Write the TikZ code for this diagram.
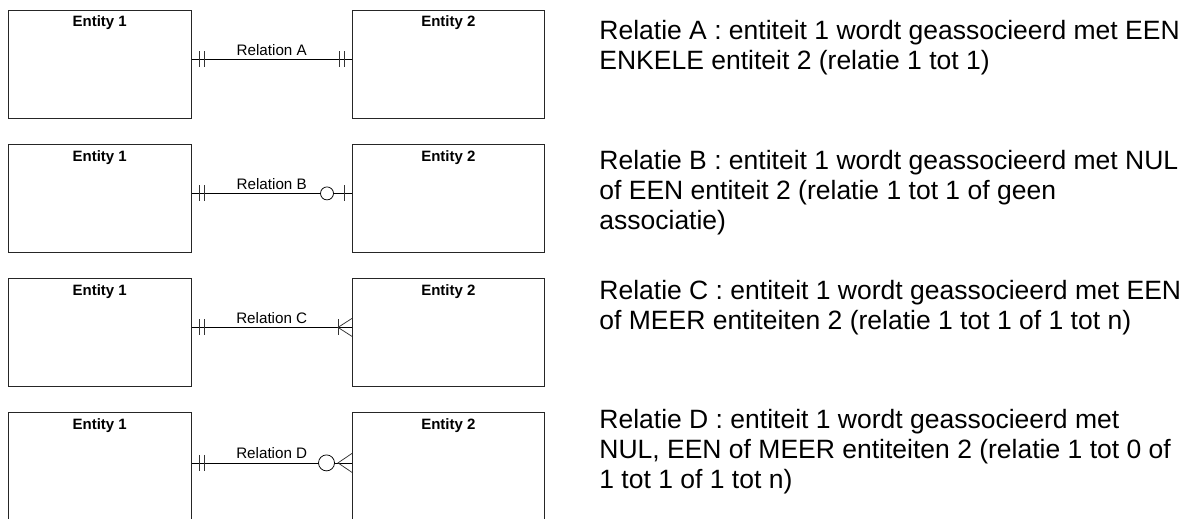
\documentclass[tikz,border=0pt]{standalone}
\usepackage{fontspec}
\setmainfont{Liberation Sans}
\usetikzlibrary{calc}
\begin{document}
\begin{tikzpicture}[x=1pt,y=-1pt,line width=0.8pt,
  ebox/.style={draw=black!85, inner sep=0pt, anchor=north west, minimum height=108pt},
  eone/.style={ebox, minimum width=182.7pt},
  etwo/.style={ebox, minimum width=192pt},
  ename/.style={font=\fontsize{15}{18}\selectfont\bfseries, anchor=base, inner sep=0pt},
  rname/.style={font=\fontsize{15.2}{18}\selectfont, anchor=base, inner sep=0pt},
  desc/.style={font=\fontsize{26.5}{30}\selectfont, anchor=base west, inner sep=0pt},
  conn/.style={draw=black, line width=0.8pt},
  tickln/.style={draw=black!80, line width=0.75pt},
  ring/.style={draw=black, fill=white, line width=0.75pt}
]
\useasboundingbox (0,0) rectangle (1189,519);

% ---------- Row A ----------
\node[eone] (e1a) at (8,10) {};
\node[etwo] (e2a) at (352,10) {};
\node[ename] at ($(e1a.north)+(0,17)$) {Entity 1};
\node[ename] at ($(e2a.north)+(0,17)$) {Entity 2};
\path (e1a.east) ++(0,-5) coordinate (a1);
\path (e2a.west) ++(0,-5) coordinate (a2);
\draw[conn] (a1) -- (a2);
\draw[tickln] ($(a1)+(7.5,-8)$) -- ++(0,16);
\draw[tickln] ($(a1)+(12.5,-8)$) -- ++(0,16);
\draw[tickln] ($(a2)+(-13,-8)$) -- ++(0,16);
\draw[tickln] ($(a2)+(-8,-8)$) -- ++(0,16);
\node[rname] at ($(a1)!0.5!(a2)+(0,-4)$) {Relation A};

% ---------- Row B ----------
\node[eone] (e1b) at (8,144) {};
\node[etwo] (e2b) at (352,144) {};
\node[ename] at ($(e1b.north)+(0,17)$) {Entity 1};
\node[ename] at ($(e2b.north)+(0,17)$) {Entity 2};
\path (e1b.east) ++(0,-5) coordinate (b1);
\path (e2b.west) ++(0,-5) coordinate (b2);
\draw[conn] (b1) -- (b2);
\draw[tickln] ($(b1)+(7.5,-8)$) -- ++(0,16);
\draw[tickln] ($(b1)+(12.5,-8)$) -- ++(0,16);
\draw[tickln] ($(b2)+(-8,-8)$) -- ++(0,16);
\draw[ring] ($(b2)+(-25,0)$) circle[radius=6.5pt];
\node[rname] at ($(b1)!0.5!(b2)+(0,-4)$) {Relation B};

% ---------- Row C ----------
\node[eone] (e1c) at (8,278) {};
\node[etwo] (e2c) at (352,278) {};
\node[ename] at ($(e1c.north)+(0,17)$) {Entity 1};
\node[ename] at ($(e2c.north)+(0,17)$) {Entity 2};
\path (e1c.east) ++(0,-5) coordinate (c1);
\path (e2c.west) ++(0,-5) coordinate (c2);
\draw[conn] (c1) -- (c2);
\draw[tickln] ($(c1)+(7.5,-8)$) -- ++(0,16);
\draw[tickln] ($(c1)+(12.5,-8)$) -- ++(0,16);
\draw[tickln] ($(c2)+(-14,-8)$) -- ++(0,16);
\draw[tickln] ($(c2)+(0,-9)$) -- ($(c2)+(-14,0)$) -- ($(c2)+(0,9)$);
\node[rname] at ($(c1)!0.5!(c2)+(0,-4)$) {Relation C};

% ---------- Row D ----------
\node[eone, minimum height=107pt] (e1d) at (8,412) {};
\node[etwo, minimum height=107pt] (e2d) at (352,412) {};
\node[ename] at ($(e1d.north)+(0,17)$) {Entity 1};
\node[ename] at ($(e2d.north)+(0,17)$) {Entity 2};
\path (e1d.east) ++(0,-3) coordinate (d1);
\path (e2d.west) ++(0,-3) coordinate (d2);
\draw[conn] (d1) -- (d2);
\draw[tickln] ($(d1)+(7.5,-8)$) -- ++(0,16);
\draw[tickln] ($(d1)+(12.5,-8)$) -- ++(0,16);
\draw[ring] ($(d2)+(-25.5,0)$) circle[radius=8pt];
\draw[tickln] ($(d2)+(0,-9.5)$) -- ($(d2)+(-14,0)$) -- ($(d2)+(0,9.5)$);
\node[rname] at ($(d1)!0.5!(d2)+(0,-4)$) {Relation D};

% ---------- Descriptions ----------
\node[desc] at (599,40) {Relatie A : entiteit 1 wordt geassocieerd met EEN};
\node[desc] at (599,70) {ENKELE entiteit 2 (relatie 1 tot 1)};
\node[desc] at (599,169.5) {Relatie B : entiteit 1 wordt geassocieerd met NUL};
\node[desc] at (599,199.5) {of EEN entiteit 2 (relatie 1 tot 1 of geen};
\node[desc] at (599,229.5) {associatie)};
\node[desc] at (599,299) {Relatie C : entiteit 1 wordt geassocieerd met EEN};
\node[desc] at (599,329) {of MEER entiteiten 2 (relatie 1 tot 1 of 1 tot n)};
\node[desc] at (599,428.5) {Relatie D : entiteit 1 wordt geassocieerd met};
\node[desc] at (599,458.5) {NUL, EEN of MEER entiteiten 2 (relatie 1 tot 0 of};
\node[desc] at (599,488.5) {1 tot 1 of 1 tot n)};
\end{tikzpicture}
\end{document}
